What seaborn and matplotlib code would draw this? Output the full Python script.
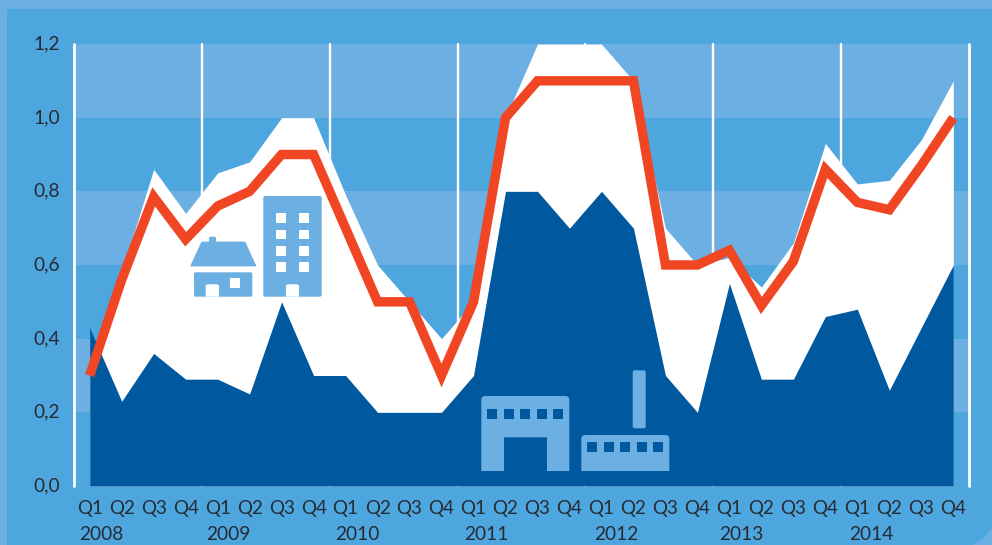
import matplotlib
matplotlib.use("Agg")
import matplotlib.pyplot as plt
from matplotlib.patches import FancyBboxPatch, Polygon, Rectangle, PathPatch
from matplotlib.path import Path
from matplotlib.transforms import ScaledTranslation
import numpy as np
import pandas as pd
import seaborn as sns

quarter_labels = ["Q1", "Q2", "Q3", "Q4"] * 7
years = ["2008", "2009", "2010", "2011", "2012", "2013", "2014"]
year_label_pos = [0.35, 4.33, 8.38, 12.4, 16.47, 20.38, 24.43]
y_ticks = [0.0, 0.2, 0.4, 0.6, 0.8, 1.0, 1.2]
y_tick_labels = ["0,0", "0,2", "0,4", "0,6", "0,8", "1,0", "1,2"]

commercial = [0.43, 0.23, 0.36, 0.29, 0.29, 0.25, 0.50, 0.30, 0.30, 0.20, 0.20, 0.20, 0.30, 0.80,
              0.80, 0.70, 0.80, 0.70, 0.30, 0.20, 0.55, 0.29, 0.29, 0.46, 0.48, 0.26, 0.43, 0.60]
total_upper = [0.30, 0.58, 0.86, 0.74, 0.85, 0.88, 1.00, 1.00, 0.79, 0.60, 0.50, 0.40, 0.50, 1.00,
               1.20, 1.20, 1.20, 1.10, 0.70, 0.60, 0.62, 0.54, 0.66, 0.93, 0.82, 0.83, 0.94, 1.10]
headline = [0.30, 0.56, 0.785, 0.67, 0.76, 0.80, 0.90, 0.90, 0.70, 0.50, 0.50, 0.30, 0.50, 1.00,
            1.10, 1.10, 1.10, 1.10, 0.60, 0.60, 0.64, 0.49, 0.61, 0.86, 0.77, 0.75, 0.87, 1.00]

BG = "#4DA6DD"
LIGHT = "#6CAFE2"
NAVY = "#00589F"
RED = "#F04623"
INK = "#262B33"
LABEL_SIZE = 13.8

sns.set_theme(style="white")
plt.rcParams["font.family"] = ["Lato", "DejaVu Sans"]

W, H = 992, 545
fig = plt.figure(figsize=(W / 100, H / 100), dpi=100, facecolor=LIGHT)


def pixel_axes(zorder):
    a = fig.add_axes([0, 0, 1, 1], zorder=zorder)
    a.set_xlim(0, W)
    a.set_ylim(H, 0)
    a.axis("off")
    a.patch.set_alpha(0)
    return a


# Page background with its pale frame and rounded lower corner
back = pixel_axes(-1)
back.add_patch(Rectangle((7, 9), W - 7, H - 9, fc=BG, ec="none"))
back.add_patch(PathPatch(Path([(972, 545), (985, 540), (992, 527), (992, 545), (972, 545)],
                              [Path.MOVETO, Path.CURVE3, Path.CURVE3, Path.LINETO, Path.CLOSEPOLY]),
                         fc=LIGHT, ec="none"))

# Main plot area
ax = fig.add_axes([73.7 / W, 1 - 486 / H, (969.3 - 73.7) / W, (486 - 44) / H], zorder=1)
ax.patch.set_alpha(0)
ax.set_xlim(-0.5, 27.5)
ax.set_ylim(0, 1.2)
sns.despine(ax=ax, left=True, bottom=True)

for low in (0.2, 0.6, 1.0):
    ax.axhspan(low, low + 0.2, color=LIGHT, lw=0, zorder=0)
for x in np.arange(-0.5, 28, 4):
    ax.axvline(x, color="white", lw=1.7 if -0.5 < x < 27.5 else 2.0, zorder=1, clip_on=False)

df = pd.DataFrame({"q": np.arange(len(headline)), "commercial": commercial,
                   "upper": total_upper, "headline": headline})
ax.fill_between(df["q"], 0, df["upper"], color="white", lw=0, zorder=2)
ax.fill_between(df["q"], 0, df["commercial"], color=NAVY, lw=0, zorder=3)
sns.lineplot(data=df, x="q", y="headline", ax=ax, color=RED, lw=6.8, zorder=4,
             solid_capstyle="butt", solid_joinstyle="miter", legend=False)

ax.set_xlabel("")
ax.set_ylabel("")
ax.set_xticks(df["q"])
ax.set_xticklabels(quarter_labels, fontsize=LABEL_SIZE - 0.3, color=INK)
ax.set_yticks(y_ticks)
ax.set_yticklabels(y_tick_labels, fontsize=LABEL_SIZE, color=INK)
ax.tick_params(axis="x", length=0, pad=10)
ax.tick_params(axis="y", length=0, pad=10)

# Lift the value labels slightly so their digits sit level with the bands
lift = ScaledTranslation(0, 1.5 / 100, fig.dpi_scale_trans)
for label in ax.get_yticklabels():
    label.set_transform(label.get_transform() + lift)

for pos, year in zip(year_label_pos, years):
    ax.annotate(year, xy=(pos, 0), xycoords=("data", "axes fraction"), xytext=(0, -48.5 * 0.72),
                textcoords="offset points", ha="center", va="center", fontsize=LABEL_SIZE, color=INK)

# Building pictograms, laid out in pixel units
icons = pixel_axes(2)


def block(x0, y0, x1, y1, color, r=0.0):
    if r:
        icons.add_patch(FancyBboxPatch((x0 + r, y0 + r), x1 - x0 - 2 * r, y1 - y0 - 2 * r,
                                       boxstyle=f"round,pad={r},rounding_size={r}", fc=color, ec="none"))
    else:
        icons.add_patch(Rectangle((x0, y0), x1 - x0, y1 - y0, fc=color, ec="none"))


def top_rounded(x0, y0, x1, y1, color, r):
    # Rectangle whose two upper corners are rounded and whose base is square
    verts = [(x0, y1), (x0, y0 + r), (x0, y0), (x0 + r, y0), (x1 - r, y0), (x1, y0), (x1, y0 + r),
             (x1, y1), (x0, y1)]
    codes = [Path.MOVETO, Path.LINETO, Path.CURVE3, Path.CURVE3, Path.LINETO, Path.CURVE3, Path.CURVE3,
             Path.LINETO, Path.CLOSEPOLY]
    icons.add_patch(PathPatch(Path(verts, codes), fc=color, ec="none"))


# House
top_rounded(209, 236.7, 216, 246, LIGHT, 1.5)
icons.add_patch(Polygon([(190.7, 266), (201.7, 242), (245, 242), (256, 266)], closed=True, fc=LIGHT, ec=LIGHT,
                        lw=0.5, joinstyle="round"))
block(194, 272.3, 252.3, 296.7, LIGHT, 1.5)
top_rounded(205.7, 284.3, 219, 296.7, "white", 2)
block(230.3, 278, 240.3, 287.7, "white")

# Apartment block
block(263.3, 196, 321.7, 296.7, LIGHT, 2)
for wx in (276, 299):
    for wy in (213.3, 229.7, 246, 262):
        block(wx, wy, wx + 10, wy + 9.7, "white")
top_rounded(286, 284.3, 299, 296.7, "white", 2)

# Factory hall
top_rounded(481.3, 396, 569.3, 471, LIGHT, 4)
top_rounded(504, 437.3, 547, 471, NAVY, 1)
for wx in (487.3, 504, 520.3, 536.7, 553):
    block(wx, 409.3, wx + 10, 419, NAVY)

# Low workshop with chimney
block(632.7, 370.3, 645.7, 428.3, LIGHT, 2)
top_rounded(581.3, 435, 669.3, 471, LIGHT, 4)
for wx in (587.3, 604, 620.3, 636.7, 653):
    block(wx, 441.7, wx + 10, 451.7, NAVY)

fig.savefig("out.png", dpi=100, facecolor=fig.get_facecolor())
